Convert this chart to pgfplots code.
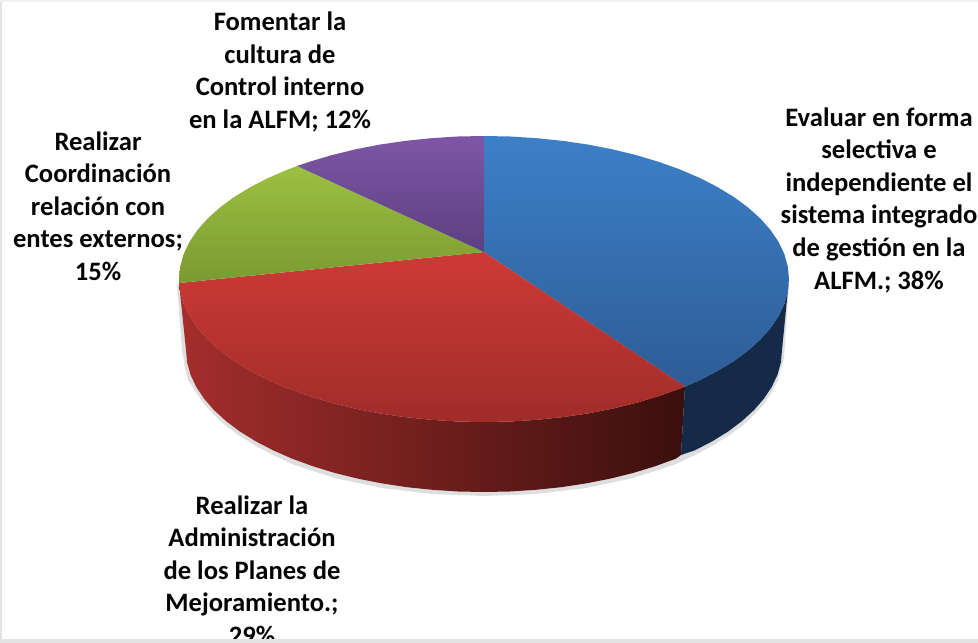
\documentclass[border=0pt]{standalone}
\usepackage{pgfplots}
\pgfplotsset{compat=1.18}
\usepackage{fontspec}
\setmainfont{Carlito}
\definecolor{labelc}{HTML}{050505}
\begin{document}
\begin{tikzpicture}
\useasboundingbox (0,0) rectangle (978pt,643pt);
\clip (0,0) rectangle (978pt,643pt);
\begin{axis}[at={(0,0)},anchor=south west,scale only axis,width=978pt,height=643pt,
 xmin=0,xmax=978,ymin=0,ymax=643,y dir=reverse,hide axis,clip=false,
 every axis plot/.append style={no markers,draw=none}]
% drop shadow of the wall
\addplot[fill=black,fill opacity=0.13,draw=none,forget plot] coordinates {
(789,285)(784,358)(781,368)(778,380)(772,392)(764,404)(754,415)(742,426)(728,436)(712,446)(695,455)(676,464)(655,471)(633,478)(610,483)(586,488)(561,491)(536,494)(510,495)(484,496)(458,495)(432,494)(407,491)(382,488)(358,483)(335,478)(313,471)(292,464)(273,455)(256,446)(240,436)(226,426)(214,415)(204,404)(196,392)(188,380)(185,368)(182,350)(177,285)} -- cycle;
% red wall
\addplot[left color={rgb,255:red,164;green,46;blue,44},middle color={rgb,255:red,106;green,28;blue,26},right color={rgb,255:red,58;green,15;blue,13},forget plot] coordinates {
(685,386.5)(680.1,388.5)(658.9,396.1)(636.5,402.8)(612.9,408.6)(588.3,413.4)(562.9,417.1)(536.9,419.8)(510.6,421.5)(484,422)(457.4,421.5)(431.1,419.8)(405.1,417.1)(379.7,413.4)(355.1,408.6)(331.5,402.8)(309.1,396.1)(287.9,388.5)(268.3,380.1)(250.4,370.9)(234.1,361)(219.9,350.5)(207.6,339.4)(197.4,327.9)(189.4,316)(183.6,303.8)(180.2,291.5)(179,283)
(186,350)(187.1,362.4)(190.5,374.7)(196.2,386.8)(204,398.6)(213.9,410)(225.9,421)(239.9,431.5)(255.7,441.3)(273.3,450.4)(292.4,458.8)(313.1,466.3)(335,473)(358.1,478.7)(382.1,483.4)(406.9,487.2)(432.3,489.8)(458,491.5)(484,492)(510,491.5)(535.7,489.8)(561.1,487.2)(585.9,483.4)(609.9,478.7)(633,473)(654.9,466.3)(675.6,458.8)(681,455)
} -- cycle;
% blue wall
\addplot[fill={rgb,255:red,20;green,42;blue,72},forget plot] coordinates {
(789,279)(787.8,291.5)(784.4,303.8)(778.6,316)(770.6,327.9)(760.4,339.4)(748.1,350.5)(733.9,361)(717.6,370.9)(699.7,380.1)(685,386.5)
(681,455)(694.7,450.4)(712.3,441.3)(728.1,431.5)(742.1,421)(754.1,410)(764,398.6)(771.8,386.8)(777.5,374.7)(780.9,362.4)(782,350)
} -- cycle;
% blue top
\addplot[top color={rgb,255:red,60;green,128;blue,200},bottom color={rgb,255:red,46;green,92;blue,150},forget plot] coordinates {
(484,252)(484,136)(510.6,136.5)(536.9,138.2)(562.9,140.9)(588.3,144.6)(612.9,149.4)(636.5,155.2)(658.9,161.9)(680.1,169.5)(699.7,177.9)(717.6,187.1)(733.9,197)(748.1,207.5)(760.4,218.6)(770.6,230.1)(778.6,242)(784.4,254.2)(787.8,266.5)(789,279)(787.8,291.5)(784.4,303.8)(778.6,316)(770.6,327.9)(760.4,339.4)(748.1,350.5)(733.9,361)(717.6,370.9)(699.7,380.1)(685,386.5)
} -- cycle;
% red top
\addplot[top color={rgb,255:red,206;green,58;blue,54},bottom color={rgb,255:red,160;green,44;blue,42},forget plot] coordinates {
(484,252)(685,386.5)(680.1,388.5)(658.9,396.1)(636.5,402.8)(612.9,408.6)(588.3,413.4)(562.9,417.1)(536.9,419.8)(510.6,421.5)(484,422)(457.4,421.5)(431.1,419.8)(405.1,417.1)(379.7,413.4)(355.1,408.6)(331.5,402.8)(309.1,396.1)(287.9,388.5)(268.3,380.1)(250.4,370.9)(234.1,361)(219.9,350.5)(207.6,339.4)(197.4,327.9)(189.4,316)(183.6,303.8)(180.2,291.5)(179,283)
} -- cycle;
% green top
\addplot[top color={rgb,255:red,156;green,192;blue,64},bottom color={rgb,255:red,122;green,154;blue,50},forget plot] coordinates {
(484,252)(179,283)(179,279)(180.2,266.5)(183.6,254.2)(189.4,242)(197.4,230.1)(207.6,218.6)(219.9,207.5)(234.1,197)(250.4,187.1)(268.3,177.9)(287.9,169.5)(297,166)
} -- cycle;
% purple top
\addplot[top color={rgb,255:red,126;green,86;blue,166},bottom color={rgb,255:red,92;green,64;blue,128},forget plot] coordinates {
(484,252)(297,166)(309.1,161.9)(331.5,155.2)(355.1,149.4)(379.7,144.6)(405.1,140.9)(431.1,138.2)(457.4,136.5)(484,136)
} -- cycle;
% labels
\begin{scope}[every node/.style={align=center,anchor=center,text=labelc,inner sep=0pt,font=\fontsize{26.6}{32.6}\selectfont\bfseries}]
\node at (axis cs:280,72) {Fomentar la\\cultura de\\Control interno\\en la ALFM; 12\%};
\node at (axis cs:879,200) {Evaluar en forma\\selectiva e\\independiente el\\sistema integrado\\de gestión en la\\ALFM.; 38\%};
\node at (axis cs:98,206) {Realizar\\Coordinación\\relación con\\entes externos;\\15\%};
\node at (axis cs:252,570) {Realizar la\\Administración\\de los Planes de\\Mejoramiento.;\\29\%};
\end{scope}
% frame of the picture
\fill[gray!22] (axis cs:0,639) rectangle (axis cs:978,643);
\fill[gray!22] (axis cs:0,0) rectangle (axis cs:2,643);
\fill[gray!12] (axis cs:0,0) rectangle (axis cs:978,1.5);
\end{axis}
\end{tikzpicture}
\end{document}
